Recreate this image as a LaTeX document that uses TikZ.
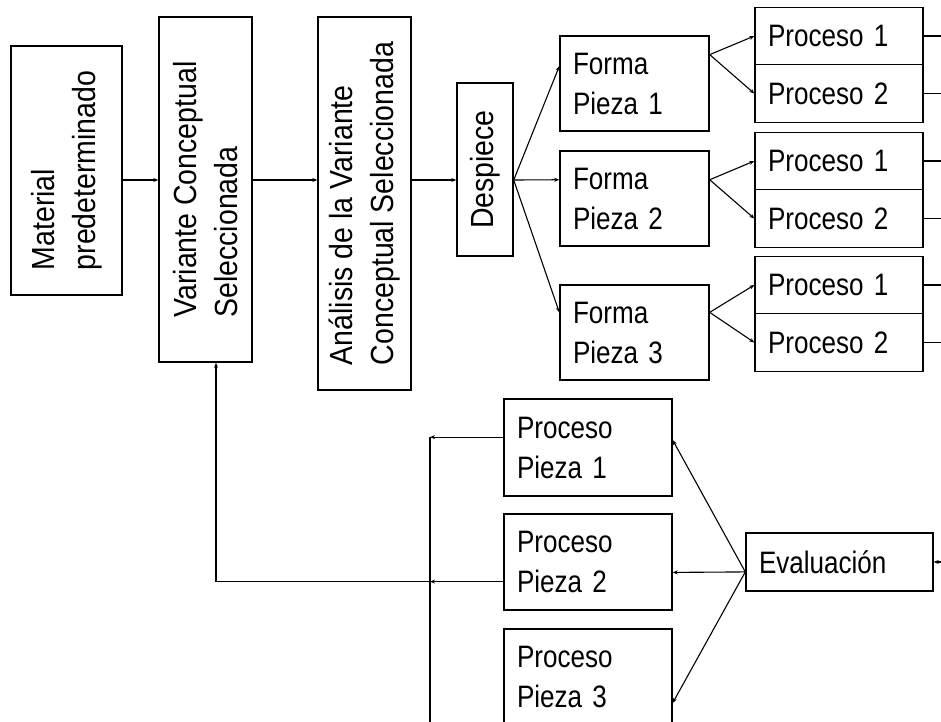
\documentclass[tikz,border=0pt]{standalone}
\usepackage{fontspec}
\setsansfont{Liberation Sans}
\newfontfamily\estrecha[FakeStretch=0.84]{Liberation Sans}
\newfontfamily\vestrecha[FakeStretch=0.89]{Liberation Sans}
\usetikzlibrary{arrows.meta,calc}
\tikzset{
  caja/.style   = {draw, line width=1.4pt, inner sep=0pt},
  vcaja/.style  = {caja, rotate=90, align=left,
                   font=\vestrecha\fontsize{32}{41}\selectfont},
  hcaja/.style  = {caja, align=left, inner xsep=13pt, inner ysep=0pt,
                   font=\estrecha\fontsize{31}{40}\selectfont},
  linea/.style  = {line width=1.1pt},
  flecha/.style = {linea, -{Stealth[length=5pt,width=4pt]}},
}

\begin{document}
\begin{tikzpicture}[x=1pt,y=-1pt]
\useasboundingbox (0,0) rectangle (941,721);
\clip (0,0) rectangle (941,721);

% -- helper coordinates --------------------------------------------------------
\coordinate (eje)      at (0,180);    % height of the main chain
\coordinate (borde)    at (941,0);    % right margin
\coordinate (fondo)    at (0,725);    % below the bottom margin
\coordinate (colector) at (430,0);    % vertical collector line
\coordinate (retorno)  at (216,0);    % return line up to the variant

% -- main chain (rotated boxes: .west is the bottom, .south the right side) -----
\node[vcaja, minimum width=249, minimum height=111] (mat)  at (66.5,170.5)
  {Material\\predeterminado};
\node[vcaja, minimum width=345, minimum height=93]  (var)  at (205.5,189.5)
  {Variante Conceptual\\Seleccionada};
\node[vcaja, minimum width=373, minimum height=93]  (ana)  at (364.5,203.5)
  {Análisis de la Variante\\Conceptual Seleccionada};
\node[vcaja, minimum width=173, minimum height=56]  (desp) at (485,169.5)
  {Despiece};

\draw[flecha] (mat.south |- eje) -- (var.north |- eje);
\draw[flecha] (var.south |- eje) -- (ana.north |- eje);
\draw[flecha] (ana.south |- eje) -- (desp.north |- eje);

% -- pieces and their processes ------------------------------------------------
\foreach \i/\y/\a/\b/\t in {1/83.5/167/21/7, 2/198.5/166/14/132, 3/332.5/165/15/256}{
  \node[hcaja, text width=123, minimum height=95] (f\i) at (634.5,\y)
    {Forma\\Pieza \i};
  \node[hcaja, text width=142, minimum height=57.5] (p\i1) at (839,\t+29)
    {Proceso 1};
  \node[hcaja, text width=142, minimum height=57.5] (p\i2) at (839,\t+86.5)
    {Proceso 2};
  \draw[flecha] (desp.south |- eje) -- (f\i.\a);
  \draw[flecha] (f\i.\b) -- (p\i1.west);
  \draw[flecha] (f\i.\b) -- (p\i2.west);
  \draw[linea] (p\i1.east) -- (p\i1.east -| borde);
  \draw[linea] (p\i2.east) -- (p\i2.east -| borde);
}

% -- evaluation ----------------------------------------------------------------
\node[hcaja, text width=142, minimum height=97] (pp1) at (588,447.5) {Proceso\\Pieza 1};
\node[hcaja, text width=142, minimum height=96] (pp2) at (588,562)   {Proceso\\Pieza 2};
\node[hcaja, text width=142, minimum height=96] (pp3) at (588,677)   {Proceso\\Pieza 3};
\node[hcaja, text width=161, minimum height=58] (eval) at (839.5,562) {Evaluación};

\draw[flecha] (eval.east -| borde) -- (eval.east);
\draw[flecha] (eval.186) -- (pp1.5);
\draw[flecha] (eval.186) -- (pp2.-7);
\draw[flecha] (eval.186) -- (pp3.-17);

% -- feedback ------------------------------------------------------------------
\draw[flecha] (pp1.173) -- (pp1.173 -| colector);
\draw[linea]  (pp1.173 -| colector) -- (colector |- fondo);
\draw[flecha] (pp2.193) -- (pp2.193 -| colector);
\draw[flecha] (pp2.193 -| colector) -- (pp2.193 -| retorno) -- (retorno |- var.west);

\end{tikzpicture}
\end{document}
